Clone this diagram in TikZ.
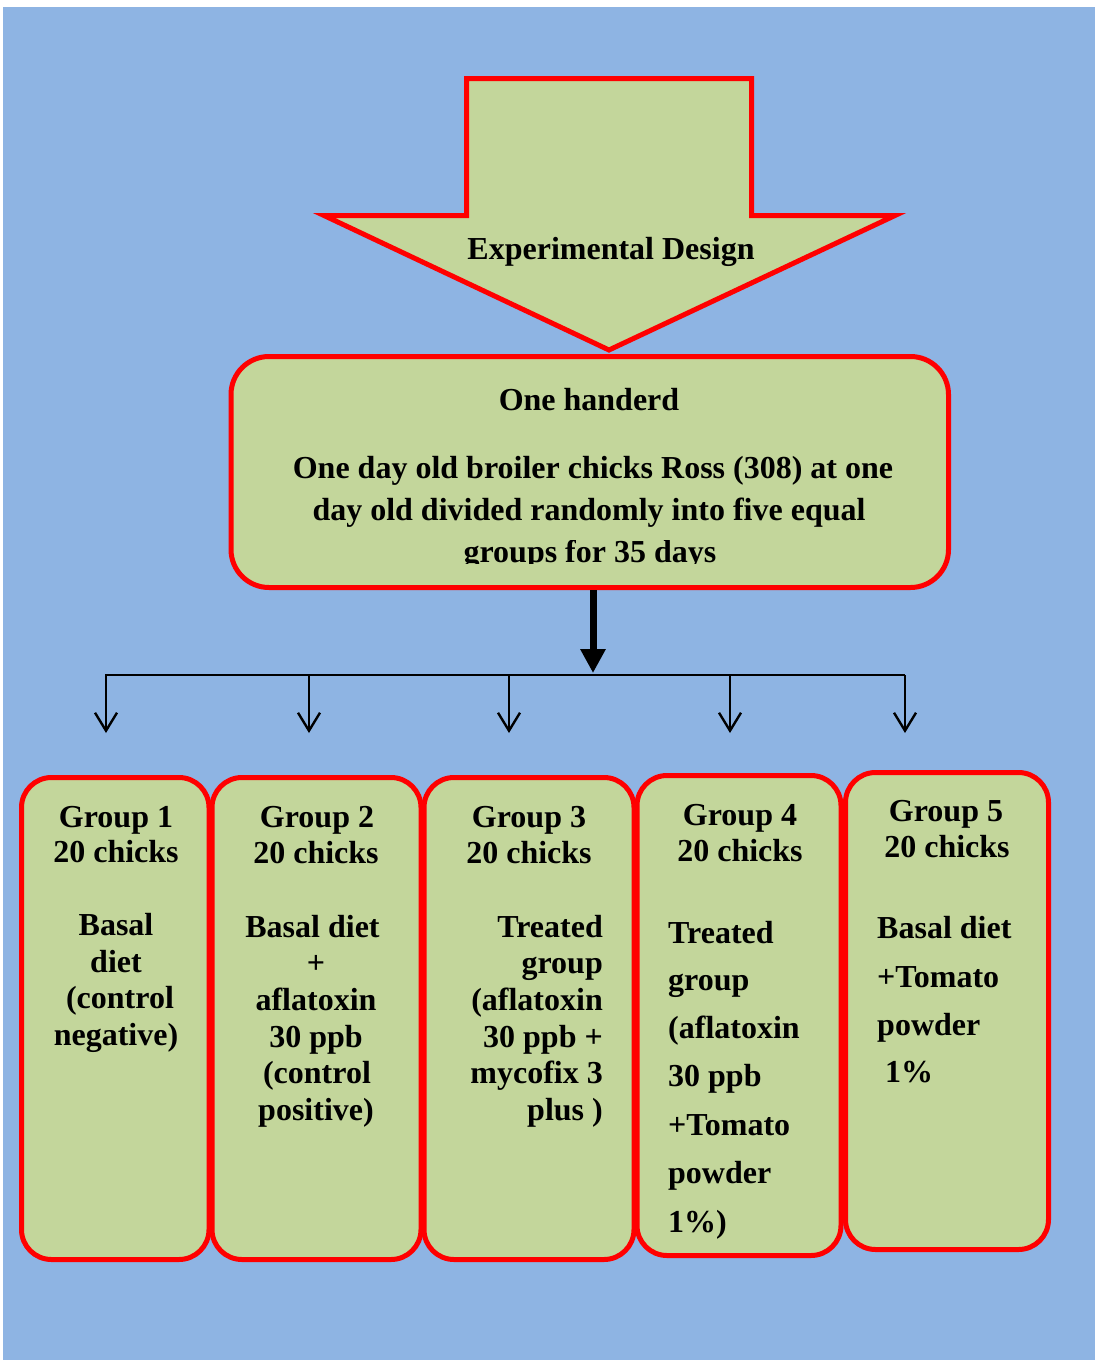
\documentclass[tikz,border=0pt]{standalone}
\usepackage{fontspec}
\setmainfont{Liberation Serif}
\usetikzlibrary{arrows.meta}
\definecolor{bgblue}{HTML}{8EB4E3}
\definecolor{boxgreen}{HTML}{C3D69B}
\definecolor{boxred}{HTML}{FF0000}
\tikzset{
  redbox/.style={draw=boxred, fill=boxgreen, line width=5pt, rounded corners=30pt, inner sep=0pt},
  mainbox/.style={redbox, rounded corners=38pt},
  bigarrow/.style={draw=boxred, fill=boxgreen, line width=5pt, line join=miter},
  txt/.style={font=\fontsize{32}{36}\selectfont\bfseries, inner sep=0pt, anchor=base, text=black},
  txtr/.style={txt, anchor=base east},
  txtl/.style={txt, anchor=base west},
  thickarrow/.style={line width=7pt, -{Triangle[width=24pt,length=24pt]}},
  splitline/.style={line width=2.6pt},
  thinarrow/.style={line width=2.4pt, -{Straight Barb[width=22pt,length=18pt]}}
}
\begin{document}
\begin{tikzpicture}[x=1pt,y=-1pt]
\useasboundingbox (0,0) rectangle (1095,1360);
\fill[white] (0,0) rectangle (1095,1360);
\fill[bgblue] (3,7) rectangle (1095,1360);

% big arrow
\draw[bigarrow] (466.5,78.5) -- (751.5,78.5) -- (751.5,215.5) -- (895,215.5) -- (609,350) -- (324,215.5) -- (466.5,215.5) -- cycle;
\node[txt] (title) at (611,259) {Experimental Design};

% main box
\node[mainbox, minimum width=717.5pt, minimum height=231pt] (main) at (589.75,472) {};
\node[txt] (m1) at (589,410) {One handerd};
\node[txt] (m2) at (593,478) {One day old broiler chicks Ross (308) at one};
\node[txt] (m3) at (589,520) {day old divided randomly into five equal};
\begin{scope}
\clip (240,540) rectangle (940,563.5);
\node[txt] (m4) at (590,562) {groups for 35 days};
\end{scope}

% connectors
\coordinate (split) at (593,673);
\coordinate (hl) at (105,675);
\coordinate (hr) at (905,675);
\draw[thickarrow] (main.south -| split) -- (split);
\draw[splitline] (hl) -- (hr);
\foreach \x [count=\i] in {106,309,509,730,905} {
  \coordinate (s\i) at (\x,675);
  \coordinate (e\i) at (\x,733);
  \draw[thinarrow] (s\i) -- (e\i);
}

% group boxes
\node[redbox, minimum width=187.5pt, minimum height=482pt] (g1) at (115.25,1018.5) {};
\node[redbox, minimum width=209pt, minimum height=482pt] (g2) at (316.5,1018.5) {};
\node[redbox, minimum width=210pt, minimum height=482pt] (g3) at (529,1018.5) {};
\node[redbox, minimum width=204pt, minimum height=480pt] (g4) at (739,1015.5) {};
\node[redbox, minimum width=203pt, minimum height=477pt] (g5) at (947,1011) {};

% group 1
\node[txt] (g1a) at (116,827) {Group 1};
\node[txt] (g1b) at (116,862) {20 chicks};
\node[txt] (g1c) at (116,935) {Basal};
\node[txt] (g1d) at (116,972) {diet};
\node[txt] (g1e) at (120,1008) {(control};
\node[txt] (g1f) at (116,1045) {negative)};

% group 2
\node[txt] (g2a) at (317,827) {Group 2};
\node[txt] (g2b) at (316,863) {20 chicks};
\node[txt] (g2c) at (312.5,937) {Basal diet};
\node[txt] (g2d) at (316,973) {+};
\node[txt] (g2e) at (316,1010) {aflatoxin};
\node[txt] (g2f) at (316,1047) {30 ppb};
\node[txt] (g2g) at (317,1083) {(control};
\node[txt] (g2h) at (316,1120) {positive)};

% group 3
\node[txt] (g3a) at (529,827) {Group 3};
\node[txt] (g3b) at (529,863) {20 chicks};
\node[txtr] (g3c) at (603,937) {Treated};
\node[txtr] (g3d) at (603,973) {group};
\node[txtr] (g3e) at (603,1010) {(aflatoxin};
\node[txtr] (g3f) at (603,1047) {30 ppb +};
\node[txtr] (g3g) at (603,1083) {mycofix 3};
\node[txtr] (g3h) at (603,1120) {plus )};

% group 4
\node[txt] (g4a) at (740,825) {Group 4};
\node[txt] (g4b) at (740,861) {20 chicks};
\node[txtl] (g4c) at (668,943) {Treated};
\node[txtl] (g4d) at (668,990) {group};
\node[txtl] (g4e) at (668,1038) {(aflatoxin};
\node[txtl] (g4f) at (668,1086) {30 ppb};
\node[txtl] (g4g) at (668,1135) {+Tomato};
\node[txtl] (g4h) at (668,1183) {powder};
\node[txtl] (g4i) at (668,1232) {1\%)};

% group 5
\node[txt] (g5a) at (946,821) {Group 5};
\node[txt] (g5b) at (947,857) {20 chicks};
\node[txtl] (g5c) at (877,938) {Basal diet};
\node[txtl] (g5d) at (877,987) {+Tomato};
\node[txtl] (g5e) at (877,1035) {powder};
\node[txtl] (g5f) at (885,1082) {1\%};
\end{tikzpicture}
\end{document}
